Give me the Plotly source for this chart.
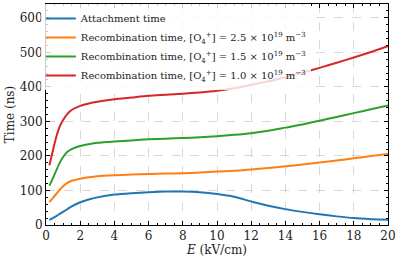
import plotly.graph_objects as go

E = [0.2, 0.4, 0.6, 0.8, 1.0, 1.25, 1.5, 2.0, 2.5, 3.0, 4.0, 5.0, 6.0, 7.0, 8.0, 9.0, 10.0,
     11.0, 12.0, 13.0, 14.0, 15.0, 16.0, 17.0, 18.0, 19.0, 20.0]
attach = [15, 20, 26, 32, 38, 46, 54, 66, 74, 80, 88, 92, 95, 97, 97, 95, 90,
          82, 68, 56, 46, 38, 31, 25, 20, 17, 15]
rec25 = [66, 78, 90, 102, 112, 122, 128, 134, 138, 141, 144, 146, 148, 149, 150, 152, 155,
         157, 161, 165, 170, 175, 181, 187, 193, 200, 206]
rec15 = [114, 135, 158, 180, 197, 212, 220, 229, 234, 238, 242, 245, 248, 250, 252, 254, 257,
         261, 266, 273, 282, 291, 302, 313, 324, 335, 346]
rec10 = [173, 215, 255, 285, 304, 322, 333, 345, 352, 357, 364, 369, 374, 377, 380, 384, 389,
         396, 406, 416, 428, 441, 455, 470, 485, 501, 518]

names = [
    "Attachment time",
    "Recombination time, [O<sub>4</sub><sup>+</sup>] = 2.5 × 10<sup>19</sup> m<sup>−3</sup>",
    "Recombination time, [O<sub>4</sub><sup>+</sup>] = 1.5 × 10<sup>19</sup> m<sup>−3</sup>",
    "Recombination time, [O<sub>4</sub><sup>+</sup>] = 1.0 × 10<sup>19</sup> m<sup>−3</sup>",
]
colors = ["#1f77b4", "#ff7f0e", "#2ca02c", "#d62728"]
series = [attach, rec25, rec15, rec10]

fig = go.Figure()
for nm, col, ys in zip(names, colors, series):
    fig.add_trace(go.Scatter(x=E, y=ys, mode="lines", name=nm,
                             line=dict(color=col, width=2, shape="spline", smoothing=0.6)))

font = "DejaVu Serif"
axis_common = dict(
    showline=True, linecolor="black", linewidth=1, mirror="ticks",
    ticks="inside", ticklen=4, tickcolor="black",
    showgrid=True, gridcolor="rgba(180,180,180,0.5)", griddash="dash", gridwidth=1,
    zeroline=False, tickfont=dict(family=font, size=12, color="#222"),
    automargin=False,
)
fig.update_xaxes(range=[0, 20], dtick=2, tick0=0,
                 minor=dict(dtick=0.5, ticks="inside", ticklen=2, tickcolor="black", showgrid=False),
                 title=dict(text="<i>E</i> (kV/cm)", font=dict(family=font, size=12, color="#222"), standoff=2),
                 **axis_common)
fig.update_yaxes(range=[0, 640], dtick=100, tick0=0,
                 minor=dict(dtick=20, ticks="inside", ticklen=2, tickcolor="black", showgrid=False),
                 title=dict(text="Time (ns)", font=dict(family=font, size=12, color="#222"), standoff=2),
                 **axis_common)
fig.update_layout(
    width=399, height=264,
    margin=dict(l=46, r=11, t=4, b=39),
    plot_bgcolor="white", paper_bgcolor="white",
    font=dict(family=font, size=10, color="#222"),
    legend=dict(x=-0.015, y=1.0, xanchor="left", yanchor="top", bgcolor="rgba(255,255,255,0.8)",
                font=dict(family=font, size=10, color="#222"), itemwidth=30, tracegroupgap=0),
    showlegend=True,
)
fig.write_html("out.html", config={"displayModeBar": False},
               post_script="document.body.style.margin='0';document.body.style.padding='0';")
